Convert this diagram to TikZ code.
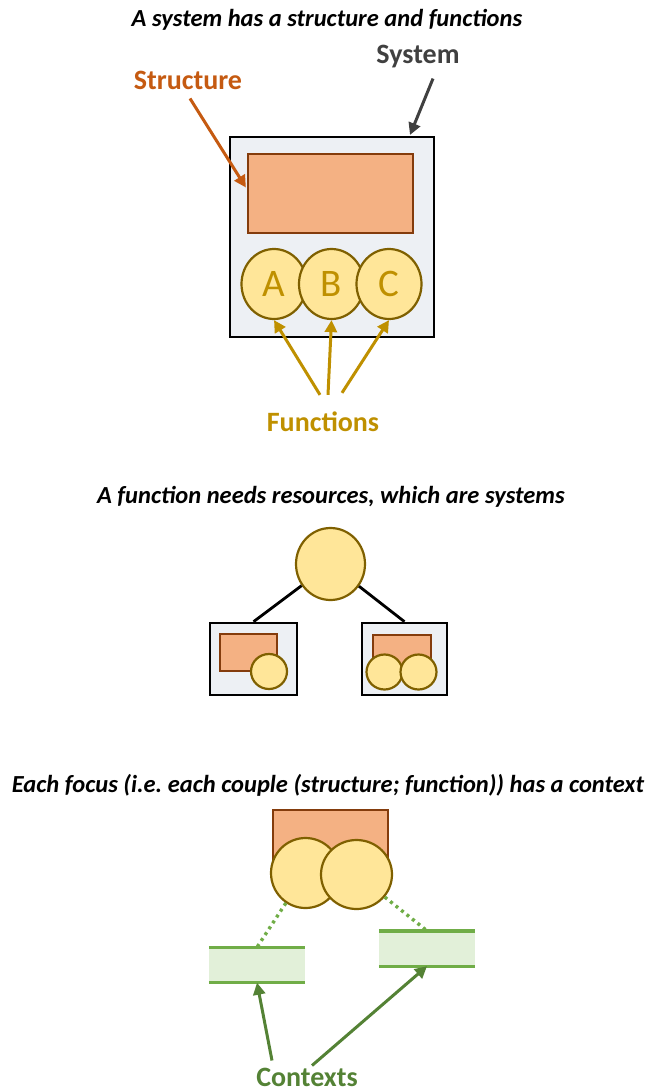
\documentclass[tikz,border=0pt]{standalone}
\usepackage{fontspec}
\setmainfont{Carlito}
\usetikzlibrary{arrows.meta,calc,shapes.geometric}

\definecolor{sysfill}{HTML}{EDF0F4}
\definecolor{systext}{HTML}{404040}
\definecolor{strfill}{HTML}{F4B183}
\definecolor{strdraw}{HTML}{843C0C}
\definecolor{strtext}{HTML}{C55A11}
\definecolor{funfill}{HTML}{FFE699}
\definecolor{fundraw}{HTML}{7F6000}
\definecolor{funtext}{HTML}{BF9000}
\definecolor{ctxfill}{HTML}{E2F0D9}
\definecolor{ctxdraw}{HTML}{70AD47}
\definecolor{ctxtext}{HTML}{548235}

\begin{document}
\begin{tikzpicture}[x=1pt,y=-1pt,
    titre/.style={font=\fontsize{24.5}{28}\selectfont\bfseries\itshape},
    lbl/.style={font=\fontsize{28}{32}\selectfont\bfseries,inner sep=2pt},
    sysbox/.style={draw=black,line width=2.6pt,fill=sysfill,inner sep=0pt},
    strbox/.style={draw=strdraw,line width=2.2pt,fill=strfill,inner sep=0pt},
    fun/.style={ellipse,draw=fundraw,line width=2.2pt,fill=funfill,inner sep=0pt,
                text=funtext,font=\fontsize{39}{40}\selectfont},
    ctxbox/.style={fill=ctxfill,inner sep=0pt,minimum width=96pt,minimum height=35pt},
    ctxline/.style={draw=ctxdraw,line width=3.4pt},
    arr/.style={line width=3pt,-{Triangle[length=12pt,width=12pt]}}]
  \useasboundingbox (0,0) rectangle (652,1091);

  %SYSTEM = STRUCTURE + FUNCTIONS
  \node[titre] (t1) at (327,20) {A system has a structure and functions};
  \node[sysbox,minimum width=204pt,minimum height=200pt] (sys) at (332,237) {};
  \node[strbox,minimum width=165pt,minimum height=79pt] (str) at (330.5,193.5) {};
  \node[fun,minimum width=65pt,minimum height=70pt] (A) at (274,284) {A};
  \node[fun,minimum width=65pt,minimum height=70pt] (B) at (331.5,284) {B};
  \node[fun,minimum width=65pt,minimum height=70pt] (C) at (389,284) {C};
  %labels
  \node[lbl,text=systext] (syslbl) at (418,57) {System};
  \node[lbl,text=strtext] (strlbl) at (188,80) {Structure};
  \node[lbl,text=funtext] (funlbl) at (323,422) {Functions};
  \coordinate (systip) at (410,135);
  \draw[arr,systext] ($(syslbl.south)+(15,8)$) -- (systip);
  \draw[arr,strtext] ($(strlbl.south)+(2,7)$) -- ($(str.west)+(-1,-6)$);
  \draw[arr,funtext] ($(funlbl.north)+(-3,-15)$) -- (A.south);
  \draw[arr,funtext] ($(funlbl.north)+(5,-15)$) -- (B.south);
  \draw[arr,funtext] ($(funlbl.north)+(19,-17)$) -- (C.south);

  %RESOURCES
  \node[titre] (t2) at (331,497) {A function needs resources, which are systems};
  \node[fun,minimum width=69pt,minimum height=72pt] (res) at (330.5,564) {};
  \node[sysbox,minimum width=87pt,minimum height=72pt] (rs1) at (253.5,659) {};
  \node[strbox,minimum width=57pt,minimum height=37pt] (rs1str) at (248.5,652.5) {};
  \node[fun,minimum width=36pt,minimum height=35pt] (rs1f) at (269,671.5) {};
  \node[sysbox,minimum width=85pt,minimum height=72pt] (rs2) at (404.5,659) {};
  \node[strbox,minimum width=58pt,minimum height=36pt] (rs2str) at (402,653) {};
  \node[fun,minimum width=36pt,minimum height=35pt] (rs2f1) at (384.5,672) {};
  \node[fun,minimum width=36pt,minimum height=35pt] (rs2f2) at (418.5,672) {};
  \draw[line width=2.8pt] (res) -- (rs1.north);
  \draw[line width=2.8pt] (res) -- (rs2.north);

  %FOCUS AND CONTEXTS
  \node[titre] (t3) at (328,785) {Each focus (i.e.\ each couple (structure; function)) has a context};
  \node[strbox,minimum width=115pt,minimum height=60pt] (fstr) at (330.5,840) {};
  \node[fun,minimum width=69pt,minimum height=70pt] (f1) at (305.5,873) {};
  \node[fun,minimum width=71pt,minimum height=69pt] (f2) at (356.5,874.5) {};
  \node[ctxbox] (c1) at (257,965) {};
  \draw[ctxline] (c1.north west) -- (c1.north east);
  \draw[ctxline] (c1.south west) -- (c1.south east);
  \node[ctxbox] (c2) at (427,948.5) {};
  \draw[ctxline] (c2.north west) -- (c2.north east);
  \draw[ctxline] (c2.south west) -- (c2.south east);
  \draw[ctxline,dash pattern=on 3pt off 4pt] (f1) -- (c1.north);
  \draw[ctxline,dash pattern=on 3pt off 4pt] (f2) -- (c2.north);
  \node[lbl,text=ctxtext] (ctxlbl) at (307,1077) {Contexts};
  \draw[arr,ctxtext] ($(ctxlbl.north)+(-35,-5)$) -- (c1.south);
  \draw[arr,ctxtext] ($(ctxlbl.north)+(5,0)$) -- (c2.south);
\end{tikzpicture}
\end{document}
